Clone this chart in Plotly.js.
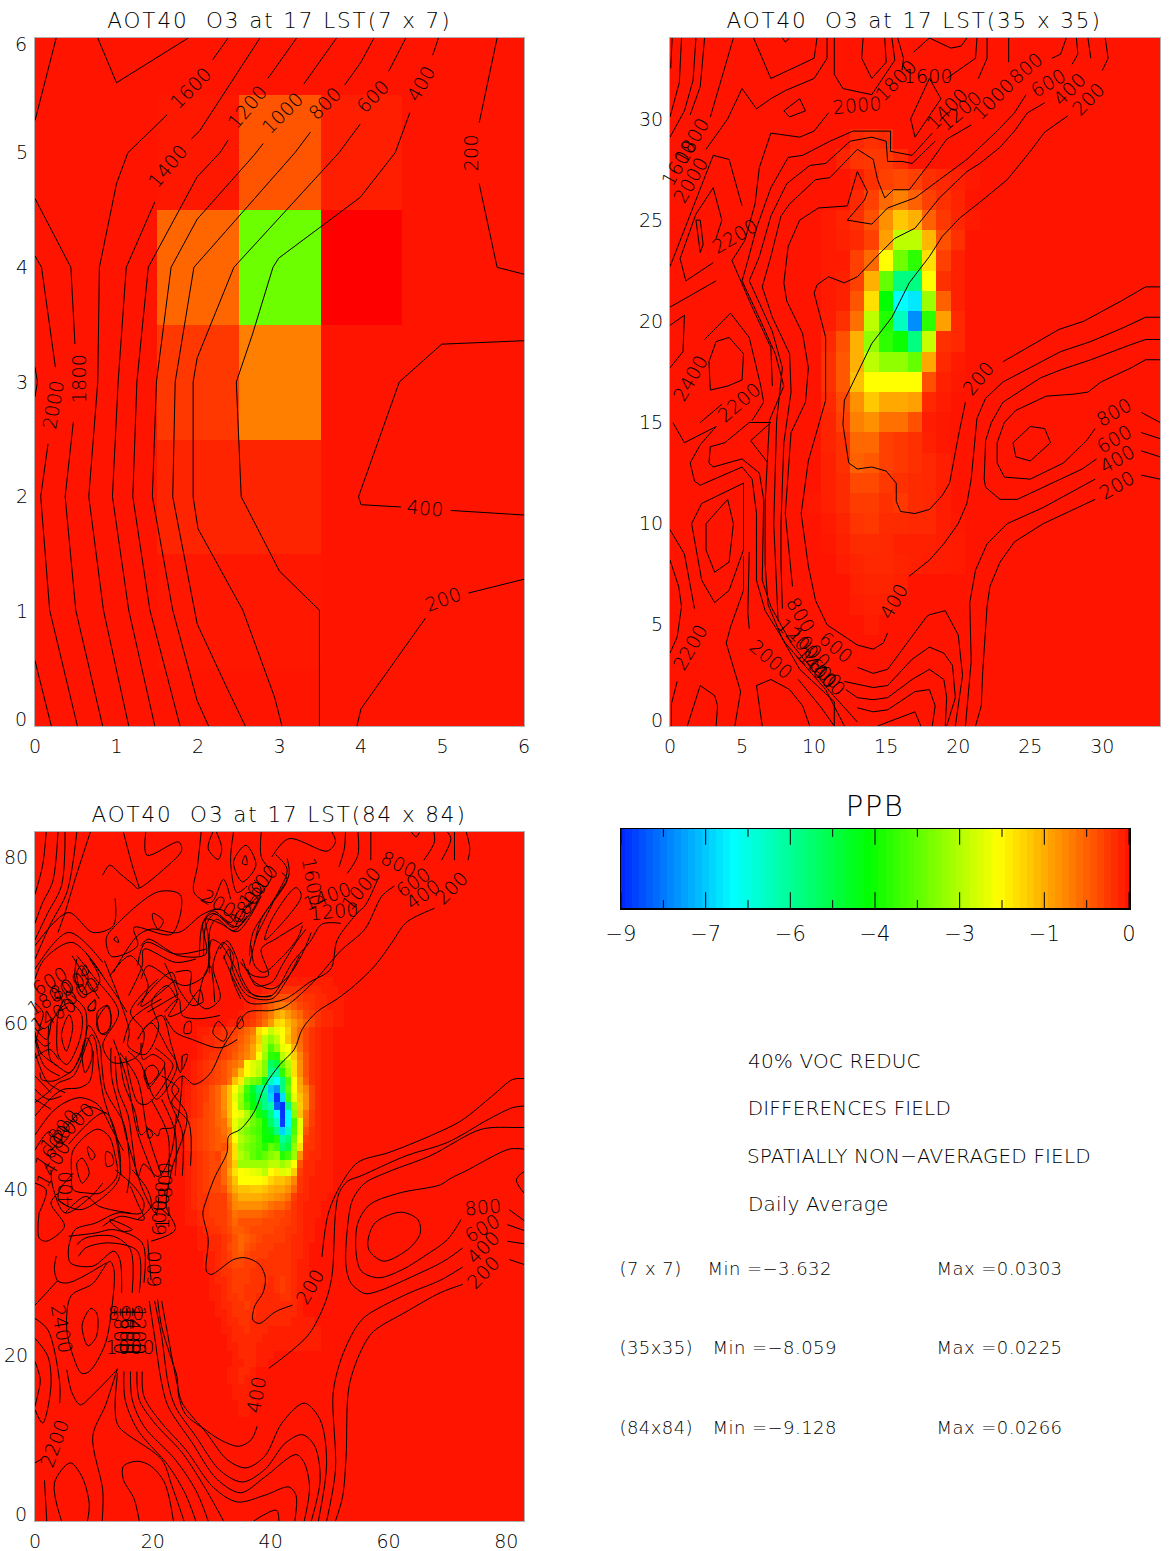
<!DOCTYPE html>
<html><head><meta charset="utf-8">
<script src="https://cdn.plot.ly/plotly-3.0.1.min.js"></script>
<style>html,body{margin:0;padding:0;background:#fff}#g{width:1173px;height:1551px}</style></head>
<body><div id="g"></div>
<script>
const FONT='DejaVu Sans';
const INK='#000';
const colorStops=[[-9,'rgb(0,40,255)'],[-7,'rgb(0,255,255)'],[-4.6,'rgb(0,255,0)'],[-2.3,'rgb(255,255,0)'],[0,'rgb(255,20,0)'],[0.03,'rgb(255,0,0)']];

// ---- 7 x 7 field ----
const heat7=[
[0,0,0,0,0,0,0],
[0,0,-.03,-.03,0,0,0],
[0,0,-.16,-.16,0,0,0],
[0,0,-.35,-1.06,0,0,0],
[0,0,-.8,-3.632,.03,0,0],
[0,0,-.04,-.64,-.1,0,0],
[0,0,0,0,0,0,0]];
const contour7=[
[[0,3.13],[.03,3],[0,2.87]],
[[0,.57],[.2,0]],
[[0,4.1],[.08,4],[.25,3.13]],[[.16,2.46],[.07,2],[.18,1.01],[.52,0]],
[[0,4.6],[.44,4],[.49,3.33]],[[.47,2.65],[.37,2],[.5,1.01],[.83,0]],
[[0,5.28],[.26,6]],
[[.77,6],[1,5.61],[1.88,6]],
[[2.37,6],[2.18,5.81]],[[1.62,5.33],[1.14,5],[1,4.73],[.79,4],[.77,3],[.66,2],[.84,1.01],[1.15,0]],
[[2.76,6],[2.02,5.19],[1.92,5.12]],[[1.47,4.57],[1.12,4],[1.02,3],[.95,2],[1.15,1.01],[1.47,0]],
[[3.21,6],[2.86,5.65]],[[2.37,5.11],[2.27,5],[1.99,4.79],[1.39,4],[1.25,3],[1.2,2],[1.41,1.01],[1.78,0]],
[[3.7,6],[3.3,5.6]],[[2.8,5.08],[2.69,4.98],[1.99,4.42],[1.67,4],[1.49,3],[1.44,2],[1.69,1.01],[1.99,.22],[2.13,0]],
[[4.16,6],[4,5.79],[3.8,5.59]],[[3.38,5.18],[3.19,5],[1.95,4],[1.72,3],[1.69,2],[1.99,.89],[2.35,.34],[2.58,0]],
[[4.55,6],[4.34,5.71]],[[3.99,5.25],[3.73,5],[2.44,4],[1.99,3.21],[1.94,3],[1.94,2],[2,1.72],[2.55,1.01],[2.94,.25],[3.03,0]],
[[4.95,6],[4.88,5.85]],[[4.6,5.35],[4.42,5],[3.99,4.61],[2.99,4.08],[2.92,4],[2.67,3.42],[2.47,3],[2.53,2],[3,1.35],[3.49,1.01],[3.49,0]],
[[5.67,6],[5.45,5.26]],[[5.45,4.73],[5.67,4],[6,3.94]],
[[6,3.36],[4.99,3.33],[4.47,3],[3.97,2],[4,1.93],[4.49,1.91]],[[5.1,1.88],[6,1.84]],
[[6,1.28],[5.32,1.16]],[[4.79,.94],[4,.15],[3.95,0]]
];
const labels7=[['1600',1.91,5.56,-45],['1400',1.63,4.88,-50],['1200',2.6,5.4,-50],['1000',3.03,5.35,-45],['800',3.56,5.43,-45],['600',4.15,5.49,-45],['400',4.73,5.6,-60],['200',5.34,5,-90],['1800',.53,3.03,-90],['2000',.22,2.8,-80],['400',4.79,1.9,5],['200',5.01,1.11,-20]];

// ---- 35 x 35 field: rows listed from row 29 down to row 5, columns 10..21 ----
const heat35FirstCol=10, heat35TopRow=29;
const heat35Rows=[
[0,0,0,-.2,-.27,-.23,0,0,0,0,0,0],
[0,0,-.16,-.31,-.35,-.35,-.23,0,0,0,0,0],
[0,0,0,-.1,-.27,-.43,-.51,-.43,-.27,-.2,-.12,-.05],
[0,0,0,-.2,-.43,-.84,-1.06,-.74,-.43,-.27,-.15,0],
[0,-.06,-.15,-.27,-.59,-1.21,-1.76,-1.53,-.74,-.35,-.17,-.06],
[0,-.06,-.12,-.2,-.43,-1.37,-2.9,-2.9,-1.6,-.59,-.27,0],
[0,-.06,-.06,-.43,-.84,-2.3,-3.6,-4.2,-2,-.43,-.12,0],
[0,-.06,-.12,-.43,-1.53,-3.7,-5.8,-5.8,-2.3,-.27,-.12,0],
[0,-.06,-.12,-.64,-2,-4.6,-7,-7.2,-3.2,-.74,-.12,0],
[0,-.08,-.27,-.9,-2.9,-4.3,-6.4,-8.06,-4.2,-1.37,-.2,0],
[0,-.2,-.59,-1.53,-3.3,-4.2,-4.5,-5.8,-2.8,-.27,-.2,0],
[0,-.27,-.67,-1.53,-2.9,-3.3,-3.3,-3.7,-1.45,-.2,-.06,0],
[0,-.27,-.67,-1.68,-2.3,-2.3,-2.3,-2.3,-.59,-.12,-.04,0],
[0,-.2,-.51,-1.21,-1.76,-1.45,-1.45,-1.37,-.2,-.08,0,0],
[0,-.16,-.43,-1.06,-1.21,-.9,-.9,-.59,-.08,-.04,0,0],
[0,-.16,-.27,-.82,-.82,-.43,-.35,-.27,-.12,-.04,0,0],
[0,-.12,-.27,-.74,-.67,-.43,-.35,-.27,-.2,-.1,0,0],
[0,-.12,-.23,-.51,-.51,-.35,-.27,-.23,-.2,-.1,0,0],
[-.04,-.12,-.23,-.39,-.39,-.27,-.35,-.23,-.2,-.08,0,0],
[0,-.06,-.16,-.31,-.35,-.23,-.23,-.2,-.2,-.08,-.04,0],
[0,-.04,-.12,-.23,-.23,-.2,-.12,-.12,-.12,-.08,-.06,0],
[0,0,-.08,-.16,-.2,-.2,-.16,-.12,-.08,-.08,-.06,0],
[0,0,0,-.12,-.16,-.16,-.12,0,0,0,0,0],
[0,0,0,-.08,-.12,-.12,0,0,0,0,0,0],
[0,0,0,0,-.08,0,0,0,0,0,0,0]];
const contour35=[
[[.15,34],[.05,32.5]],
[[.8,34],[.65,31.8],[0,30.1]],
[[1.8,34],[1.6,31.9],[1,30.4],[0,29.1]],
[[2.4,34],[2.1,31.6],[1.4,30.2]],
[[4.4,34],[3.6,32],[2.8,30.1]],
[[5.8,34],[7,32],[10,33],[10.2,34]],
[[7.8,34],[8,33.8],[8.3,34]],
[[10.9,34],[10.9,33],[10,32],[8,31.4],[7,31],[6,30.5],[5,31.5],[4,30],[2.5,28.5]],
[[7.9,30.4],[9,31],[9.4,30.4],[8.3,30.1],[7.9,30.4]],
[[13.4,34],[13.3,33],[14,32],[15,32.8],[14.9,34]],
[[11.4,34],[11.4,32.2],[12,31.5],[14,31.2],[15.6,32.9],[15.4,34]],
[[15.8,34],[16.2,33],[16.1,32.4]],
[[16.9,33.3],[18,34],[19.5,33.5],[20.2,33.6],[20.6,34]],
[[21.3,34],[21.2,33],[19.2,32]],
[[22,34],[22,33],[21.4,32]],
[[23.5,34],[23.5,32.8]],
[[26.5,33],[27.1,33.2],[27.5,34]],
[[27.9,32.7],[28.3,33.2],[28.2,34]],
[[29,34],[29.2,33]],
[[30.2,34],[30.4,33],[30,32.4]],
[[18,32],[18.8,31],[17,29.1],[16.7,30],[18,32]],
[[27.6,30.15],[26,29.35],[25,28.4],[23.4,27],[21.7,26],[20.1,25.1],[18.9,24.2],[18,23.2],[16.6,21.9],[15.4,20.2],[14,18.9],[13,17.4],[12.1,16.1],[12,14.9],[12.4,13],[13,12.7],[14,12.8],[15,12.6],[15.7,12],[15.7,11.1],[16,10.6],[17,10.5],[18,10.7],[18.9,11.4],[19.4,12],[20,14.3],[20.5,16]],
[[23.1,18],[25.6,19],[27,19.6],[28.7,20],[31.3,21],[33,21.7],[34,21.7]],
[[34,20.2],[33,20.2],[31.5,19.7],[29.2,19],[27.1,18.5],[25,17.7],[23.1,17],[21.9,16.2],[21.3,15.2],[20.9,12.2],[20.6,11],[20,10],[19,9],[18,8.2],[16.6,7.4]],
[[15.1,4.6],[14.8,4.1],[14.1,3.8],[13,4],[10.9,5],[10.1,6.2],[9.6,7.9],[9.1,10.5],[9.6,13.1],[10.8,16.1],[10.8,19.2],[10,21.4],[10.2,21.8],[11,22.2],[12.1,21.9],[13,22.2],[14.2,23.1],[15.6,24.1],[17,24.6],[18.7,26.1],[20.6,27.4],[21.5,27.8],[22.9,28.6],[23.9,29.4],[24.8,30.3],[26,30.8]],
[[34,19.1],[33,19.1],[31.8,18.8],[29.2,18.1],[27.1,17.6],[25.7,17.2],[23.1,16],[22.3,15],[21.9,14.1],[21.8,12.2],[21.9,11.8],[22.9,11.2],[24.1,11.2],[26.2,11.9],[28.6,12.7],[29.6,13.2]],
[[34,18.1],[33,18.1],[32,17.7],[29.9,17],[29,16.5],[28,16.4],[26.1,16.3],[24,15.6],[23.2,15],[22.7,14],[22.7,13],[23.2,12.3],[25,12.2],[27.3,13],[28.9,14.1],[29.5,14.7]],
[[23.8,14],[25,14.8],[26,14.7],[26.4,14],[25,13.1],[24,13.3],[23.8,14]],
[[29.5,12.2],[28,11.6],[25.9,10.8],[23.4,10],[22,9],[21.2,7.7],[20.8,6.1],[20.9,3.2],[20.5,0]],
[[29.5,11.2],[28.6,10.9],[25.9,10],[23.9,9.1],[22.9,8.1],[22.2,6.9],[22,5.9],[21.7,2.7],[21.6,1],[21.2,0]],
[[32.7,15.5],[34,15]],[[32.7,14.5],[34,14.2]],[[32.7,13.6],[34,13.3]],[[32.7,12.4],[34,12.2]],
[[24.7,31.2],[23.9,30.3],[22.7,29.4],[20.6,28],[18.7,27],[17,26.1],[15.1,25.6],[14,24.8],[12.3,25],[13.5,26],[13.7,26.4],[13,27.4],[12.3,25.7],[10.3,25.6],[9,25],[8.2,23.7],[7.9,21.9],[8.1,21],[9.2,19.4],[9.6,17.7],[9.4,16],[8.4,14.5],[8,10.5],[8.5,6.9]],
[[20.9,29.7],[19.2,29],[18,27.8],[16.6,26.5],[15.5,26.5],[14.9,26.1],[14.4,27],[14.1,28],[13,28.5],[11.1,27.1],[10.1,27],[8.3,25.8],[7.7,25.2],[7,23.2],[6.4,21.7],[7.1,20.2],[8.3,18.4],[8.4,16.5],[7.9,14],[7.7,10],[7.7,8],[7.8,5.8]],
[[18.4,28.9],[16.8,27.8],[16.1,27.9],[15.1,27.9],[15,28.9],[14,29.1],[12.5,28.9],[10.8,27.8],[9.7,27.7],[8.1,26.8],[7,25.2],[6.2,23.2],[5.5,22],[7.1,19.5],[7.8,17.7],[7.4,15.1],[7.2,10],[7.4,7],[7.5,5.2]],
[[18.2,29.3],[16.8,28.2],[15.3,28.4],[15.3,29.4],[12.7,29.4],[11.1,28.9],[9.2,28.2],[8.2,28.1],[7,26.6],[6,24.6],[5.4,23],[5,22],[6.3,20],[7.3,18.4],[7.9,16.8],[6.9,15.1],[6.6,11],[6.6,8],[6.8,6],[7.8,4.3],[9,2.8],[11.4,1.2],[11.4,0]],
[[11,30.3],[10,29.4],[9,29.1],[7,29.3],[6.2,27.6],[5.9,25.8],[5.2,24],[4.3,23],[5.7,20.7],[7,18.7],[7.1,16.8]],
[[3,22.9],[1.1,22],[.7,23.1],[1.8,25.3],[3,26.6],[3.6,25],[3.2,24.1]],
[[1.8,25],[2.1,23.4],[2.3,23.8],[2.1,25],[1.8,25]],
[[5,25.7],[4.1,28],[3,28.2],[1.7,25.8],[0,22.7]],
[[3.2,22],[0,20.7]],
[[4.1,19.2],[5.1,18.4],[5,17.1],[4,16.8],[2.8,16.6],[2.7,18],[3.2,19],[4.1,19.2]],
[[2.4,19.1],[4.2,20.4],[5.5,19.2],[6.3,16.8],[6.5,16],[5.7,15.1]],
[[0,19.8],[1,20.3],[.9,18.5],[0,17.7]],
[[.2,15],[1,14],[3.2,14.8]],
[[2.1,15],[3.6,15.9]],
[[3.2,14.8],[2.1,13.9],[1.4,13],[1.7,12.1],[2.1,11.9],[5,12.8],[5.7,12.2],[6,10.5],[6,7.2],[6.6,5.7],[8,4.1],[10.8,1.8],[12.1,0]],
[[3.8,14],[2.8,13.8],[2.7,13],[3,12.8],[5,13.2],[6.2,12.5],[6.5,11.2],[6.4,7.2],[7,5.9],[8.4,4.1],[11.1,1.7],[13,.2]],
[[3.8,14],[5.5,15],[7,15],[5.6,14.1],[6.8,13]],
[[5.1,12],[2.2,11],[1.5,10],[2.2,7.2],[3.1,6.1],[4.1,6.7],[5.1,8.7],[5.1,12]],
[[4,11.2],[2.5,10],[2.5,8.7],[3.1,7.6],[4.1,8.1],[4.4,10],[4,11.2]],
[[0,9.7],[1,8.5],[1.7,5.8]],
[[0,8.2],[.6,6.9],[.8,5.9],[.5,4.4],[0,3.6]],
[[5.1,8.4],[5.1,6.7],[4.2,4.9],[3.9,4.1],[4.9,1.7],[4.5,0]],
[[5.5,8.6],[5.4,5.6],[5.5,4.8]],
[[.5,2.2],[.1,1.1],[.1,0]],
[[1.2,0],[2.1,2],[3.1,1.5],[3.3,1],[3.2,0]],
[[6.4,0],[6,2],[7,2.3],[8.3,1.8],[9.2,1],[9.7,0]],
[[8.9,2.3],[10.5,.9],[11.4,0]],
[[13,2.9],[14.1,2.6],[15.1,2.8],[17.8,5.4],[18,5.5],[19.1,5.7],[20,4.5],[20.3,2.5],[19.8,0]],
[[12.1,2.2],[13.5,2],[14.1,1.9],[15.1,2],[16.8,3.3],[18,3.9],[19,3.6],[19.6,3],[19.8,1.4],[19.2,0]],
[[12.2,1.8],[13,1.4],[14.1,1.3],[15.1,1.4],[16.8,2.3],[18,2.8],[19,2.3],[19.2,1.4],[19.1,0]],
[[13,.9],[14.1,.7],[15.1,.8],[17,1.7],[18,1.8],[18.4,1],[18.2,0]],
[[14.4,0],[17,.7],[17.4,0]]
];
const labels35=[['2000',13,30.7,-5],['1800',15.7,31.9,-45],['1600',17.9,32.1,0],['1400',19.2,30.5,-45],['1200',20.1,30.4,-40],['1000',22.4,31,-45],['800',24.7,32.5,-40],['600',26.2,31.8,-30],['400',27.7,31.5,-45],['200',29,31,-45],
['1800',1.5,28.9,-60],['1600',.6,27.8,-60],['2000',1.4,27,-60],['2200',4.5,24.2,-30],['2400',1.4,17.2,-60],['2200',4.8,16,-40],['2200',1.4,3.9,-60],['2000',7,3.3,40],
['800',9.1,5.5,60],['1200',8.9,4.3,45],['1000',9.7,3.9,45],['1400',10.1,2.9,45],['1600',10.4,2.8,40],['400',11,2.3,45],['600',11.5,3.9,40],
['400',15.5,6.2,-60],['200',21.4,17.2,-50],['800',30.8,15.5,-30],['600',30.8,14.2,-30],['400',31,13.2,-30],['200',31,11.9,-30]];

// ---- 84 x 84 field: rows from row 59 down to row 19, columns 28..50 ----
const heat84FirstCol=28, heat84TopRow=59;
const heat84Rows=[
[-.1,-.1,-.2,-.2,-.3,-.3,-.4,-.6,-.8,-1,-2,-2.3,-2.8,-2.5,-2.3,-1.8,-1.2,-.8,-.5,-.3,-.2,-.1,-.1],
[-.1,-.2,-.2,-.3,-.3,-.4,-.5,-.7,-.9,-1.2,-1.8,-2.9,-3.3,-2.9,-2.3,-1.7,-1.2,-.8,-.5,-.3,-.2,-.1,-.1],
[-.1,-.2,-.2,-.3,-.4,-.5,-.6,-.8,-1,-1.4,-2,-3,-3.9,-3.3,-2.5,-2.3,-1.5,-.9,-.5,-.3,-.2,-.1,-.1],
[-.1,-.2,-.3,-.3,-.4,-.5,-.7,-.9,-1.1,-1.4,-2.3,-3.2,-4.2,-4.3,-2.9,-2.5,-1.8,-1.1,-.6,-.3,-.2,-.1,-.1],
[-.2,-.3,-.4,-.5,-.6,-.8,-.9,-1.1,-2.3,-2.6,-2.8,-3.4,-5.5,-5.2,-3.7,-3,-2,-1.2,-.6,-.3,-.2,-.1,-.1],
[-.2,-.3,-.4,-.5,-.6,-.8,-1.1,-1.7,-2.3,-2.6,-2.9,-3.4,-5.9,-6.1,-4.2,-3.2,-2,-1.2,-.6,-.3,-.2,-.1,-.1],
[-.2,-.3,-.4,-.5,-.6,-.9,-1.7,-2.1,-3.2,-3.5,-3.7,-4.9,-6.4,-7,-5.8,-3.9,-2.3,-1.4,-.7,-.3,-.2,-.1,-.1],
[-.3,-.4,-.6,-.8,-1.2,-1.7,-2.3,-2.9,-4,-5,-5.9,-6.1,-7.6,-8,-5.8,-3.7,-2.3,-1.5,-1.1,-.5,-.2,-.1,-.1],
[-.3,-.4,-.6,-.8,-1.2,-1.7,-2.5,-3.2,-4.2,-4.8,-5.5,-5.8,-7.4,-8.9,-7.3,-4,-2.5,-1.7,-1.2,-.5,-.2,-.1,-.1],
[-.3,-.5,-.6,-.8,-1.2,-1.7,-2.3,-3.3,-3.9,-4.5,-5,-5.9,-6.2,-8.5,-8.9,-5.8,-3.2,-1.8,-1.2,-.5,-.2,-.1,-.1],
[-.3,-.5,-.6,-.8,-1.1,-1.7,-2.3,-2.5,-3,-3.8,-4.4,-5,-5.8,-7,-8.9,-7,-3.4,-1.7,-.9,-.4,-.2,-.1,-.1],
[-.4,-.5,-.6,-.8,-.9,-1.5,-2.5,-2.9,-3.2,-3.6,-3.9,-4.5,-5.5,-6.4,-8.8,-7,-4,-2.5,-.8,-.4,-.2,-.1,-.1],
[-.4,-.5,-.6,-.7,-.9,-1.2,-2.5,-3.2,-3.5,-3.8,-4,-4.5,-4.9,-5.8,-7.4,-6.4,-3.9,-2.5,-.6,-.3,-.2,-.1,-.1],
[-.4,-.5,-.6,-.7,-.8,-1.4,-2.3,-3,-3.3,-3.6,-3.9,-4.5,-4.6,-4.3,-6.1,-5.6,-3.6,-2.3,-.4,-.3,-.2,-.1,-.1],
[-.4,-.5,-.6,-.7,-.6,-1.2,-2,-3.2,-3.5,-3.7,-3.9,-4.3,-3.7,-4,-5.6,-5.2,-3.3,-2,-.3,-.3,-.2,-.1,-.1],
[-.3,-.4,-.5,-.4,-.8,-1.2,-2,-3,-3.3,-3.7,-4,-3.7,-3.4,-3.2,-4.3,-4,-3.2,-1.2,-.3,-.2,-.2,-.1,-.1],
[-.3,-.4,-.5,-.5,-.8,-1.2,-1.8,-3.2,-3.2,-3.2,-3.2,-3.2,-2.9,-2.9,-3.2,-2.9,-2.3,-.6,-.2,-.2,-.1,-.1,-.1],
[-.3,-.4,-.5,-.5,-.8,-1.4,-2,-2.3,-2.4,-2.5,-2.6,-2.9,-2.3,-2.1,-2.6,-2.5,-1.8,-.4,-.2,-.2,-.1,-.1,-.1],
[-.3,-.4,-.5,-.5,-.8,-1.2,-1.7,-2.3,-2.3,-2.3,-2.3,-2.2,-1.9,-1.7,-1.7,-1.5,-1.1,-.3,-.2,-.1,-.1,-.1,-.1],
[-.3,-.4,-.5,-.5,-.6,-1.1,-1.5,-1.7,-1.7,-1.8,-1.8,-1.7,-1.5,-1.4,-1.4,-1.2,-.8,-.3,-.2,-.1,-.1,-.1,-.1],
[-.3,-.3,-.4,-.4,-.4,-.8,-1.2,-1.5,-1.5,-1.5,-1.5,-1.4,-1.3,-1.2,-1.1,-.9,-.4,-.2,-.2,-.1,-.1,-.1,0],
[-.3,-.3,-.4,-.4,-.4,-.7,-1.1,-1.2,-1.2,-1.2,-1.2,-1.1,-.9,-.8,-.8,-.6,-.3,-.2,-.1,-.1,-.1,0,0],
[-.2,-.3,-.4,-.4,-.4,-.6,-.9,-.8,-.8,-.8,-.8,-.7,-.6,-.5,-.5,-.4,-.3,-.2,-.1,-.1,-.1,0,0],
[-.2,-.3,-.3,-.4,-.4,-.6,-.8,-.6,-.6,-.6,-.6,-.5,-.5,-.5,-.4,-.4,-.3,-.2,-.1,-.1,0,0,0],
[-.1,-.2,-.3,-.3,-.4,-.5,-.7,-.7,-.6,-.5,-.5,-.5,-.5,-.4,-.4,-.3,-.3,-.2,-.1,-.1,0,0,0],
[-.1,-.1,-.2,-.2,-.3,-.4,-.6,-.8,-.7,-.6,-.5,-.4,-.4,-.4,-.4,-.3,-.2,-.2,-.1,-.1,0,0,0],
[-.1,-.1,-.2,-.2,-.3,-.5,-.6,-.8,-.6,-.5,-.4,-.4,-.4,-.3,-.3,-.3,-.2,-.2,-.1,0,0,0,0],
[0,-.1,-.1,-.2,-.3,-.4,-.6,-.7,-.5,-.4,-.4,-.4,-.3,-.3,-.3,-.3,-.2,-.2,-.1,0,0,0,0],
[0,-.1,-.1,-.2,-.3,-.4,-.5,-.5,-.4,-.4,-.3,-.3,-.3,-.3,-.3,-.3,-.2,-.1,-.1,0,0,0,0],
[0,0,-.1,-.2,-.3,-.3,-.4,-.4,-.4,-.3,-.3,-.3,-.3,-.3,-.3,-.3,-.2,-.1,-.1,0,0,0,0],
[0,0,-.1,-.2,-.2,-.3,-.4,-.4,-.4,-.3,-.3,-.3,-.2,-.3,-.4,-.3,-.2,-.1,-.1,0,0,0,0],
[0,0,-.1,-.1,-.2,-.3,-.4,-.4,-.3,-.3,-.3,-.2,-.2,-.3,-.4,-.3,-.2,-.1,0,0,0,0,0],
[0,0,-.1,-.1,-.2,-.3,-.3,-.4,-.3,-.3,-.2,-.2,-.2,-.2,-.3,-.3,-.2,-.1,0,0,0,0,0],
[0,0,0,-.1,-.2,-.2,-.3,-.3,-.4,-.3,-.2,-.2,-.2,-.2,-.2,-.2,-.2,-.1,0,0,0,0,0],
[0,0,0,-.1,-.1,-.2,-.3,-.3,-.3,-.3,-.2,-.2,-.2,-.2,-.2,-.2,-.2,-.1,0,0,0,0,0],
[0,0,0,0,-.1,-.2,-.2,-.3,-.3,-.2,-.2,-.2,-.2,-.2,-.2,-.2,-.1,-.1,-.1,-.1,0,0,0],
[0,0,0,0,-.1,-.1,-.2,-.2,-.3,-.2,-.2,-.2,-.1,-.1,-.1,-.1,-.1,-.1,-.1,-.1,-.1,0,0],
[0,0,0,0,0,-.1,-.2,-.2,-.2,-.2,-.2,-.1,-.1,-.1,-.1,-.1,-.1,-.1,-.1,-.1,-.1,0,0],
[0,0,0,0,0,-.1,-.1,-.2,-.2,-.2,-.1,-.1,-.1,-.1,-.1,-.1,-.1,-.1,-.1,-.1,-.1,0,0],
[0,0,0,0,0,0,-.1,-.2,-.2,-.2,-.1,-.1,-.1,0,0,0,0,0,0,0,0,0,0],
[0,0,0,0,0,0,-.1,-.1,-.2,-.2,-.1,-.1,0,0,0,0,0,0,0,0,0,0,0]];
// rows and edges outside the main block: [row, first column, values]
const heat84Cap=[
[65,42,[-.1,-.1,-.1,-.1,-.1,-.1,-.1,-.1,-.1]],
[64,39,[-.1,-.2,-.2,-.3,-.3,-.3,-.3,-.2,-.2,-.2,-.1,-.1,-.1]],
[63,37,[-.1,-.2,-.3,-.4,-.5,-.6,-.6,-.5,-.4,-.3,-.3,-.2,-.2,-.1,-.1,-.1]],
[62,36,[-.1,-.2,-.3,-.5,-.7,-.9,-1,-.9,-.7,-.5,-.4,-.3,-.2,-.2,-.1,-.1,-.1]],
[61,35,[-.1,-.2,-.3,-.5,-.7,-1,-1.4,-1.6,-1.3,-1,-.8,-.5,-.4,-.3,-.2,-.2,-.1,-.1]],
[60,33,[-.1,-.1,-.2,-.3,-.4,-.6,-.9,-1.3,-1.9,-2,-1.6,-1.3,-1,-.7,-.5,-.3,-.2,-.2,-.1,-.1]],
[55,27,[-.1]],[54,27,[-.1]],[53,27,[-.1]],
[52,26,[-.1,-.2]],[51,26,[-.1,-.2]],[50,26,[-.1,-.2]],[49,26,[-.1,-.2]],[48,26,[-.2,-.3]],[47,26,[-.2,-.3]],[46,26,[-.2,-.3]],[45,26,[-.2,-.3]],[44,26,[-.1,-.2]],[43,26,[-.1,-.2]],[42,26,[-.1,-.2]],[41,26,[-.1,-.2]],[40,26,[-.1,-.2]],[39,26,[-.1,-.2]],[38,26,[-.1,-.2]],[37,26,[-.1,-.1]],[36,26,[-.1,-.1]],
[18,33,[-.1,-.1,-.2,-.2,-.1]],[17,33,[-.1,-.1,-.2,-.1,-.1]],[16,34,[-.1,-.1,-.1,-.1]],[15,34,[-.1,-.1,-.1]],[14,35,[-.1,-.1,-.1]],[13,35,[-.1,-.1]]];
const contour84=[
[[67.8,73.8],[63,72.1],[60.6,69.7],[57.7,66.9],[54.2,64.5],[51.3,62.9],[47.8,61.3],[45.4,59.3],[44,56.8],[41.6,55],[39,52.4],[37.3,49.4],[34.9,47.2],[32.9,46.4],[32.6,44.4],[30.5,41.4],[29.1,38.7],[28.5,37.1],[29.4,33.9],[29.1,30.1],[29.9,29.7],[33.7,31.5],[35.8,31.7],[38.1,30.9],[39.1,29.3],[38.7,27.5],[37.3,25.9],[37,24.2],[38.1,23.8],[40.8,25.2],[43.7,26]],
[[48.7,31.8],[49.8,37.1],[51.9,40.5],[54.8,43.2],[60.1,44.4],[67.1,46.4],[72.3,48.2],[77.6,51.2],[81.1,53.2],[83,53.3]],
[[83,50],[81.1,49.8],[77,48.4],[70,45.6],[63,44],[55.4,41.6],[53,40.9],[51.6,39.5],[51,37.1],[50.4,29.5],[49.2,26.2],[46.6,22.6],[43.7,20.6],[39.7,18.4]],
[[37.7,11.4],[36.7,9.8],[34.6,9],[31.4,9.8],[28.5,11.2],[25.6,12.8],[24.4,15],[24.1,17.4],[23.2,19.4],[21.5,23.4],[20.8,26.7]],
[[56.5,33.7],[57.7,35.9],[62.1,37.2],[65,36.3],[65.4,34.7],[63.6,32.9],[59.2,31.3],[56.8,32.5],[56.5,33.7]],
[[72.3,36.3],[70,33.9],[66.5,32.1],[62.4,30.3],[58.3,29.3],[55.4,30.1],[54.5,32.3],[54.8,35.9],[56.8,38.1],[61.8,39.5],[68.8,40.5],[70.6,41.3],[73.5,42.3],[75.8,43.2],[80.5,44.8],[83,44.8]],
[[72.6,32.9],[69.4,31.3],[64.2,29.5],[58.3,27.7],[56,27.4],[53.6,28.7],[52.8,30.7],[53,35.1],[53.9,38.7],[56,40.7],[60.1,42.1],[67.1,44],[75.8,47.2],[81.7,47.4],[83,47.4]],
[[72.6,30.6],[68.8,29],[63,27.3],[56,24.6],[54.2,23],[51.9,19.4],[50.6,15.4],[51,6.2],[49.5,0]],
[[72.6,28.5],[68.8,27.5],[63,25.2],[57.4,22.8],[55.4,20.6],[53.3,16.2],[52.8,7.7],[52.2,2.9],[51,0]],
[[80.5,37.5],[83,36.2]],[[80.2,35.7],[83,35]],[[80.2,33.7],[83,33.4]],[[80.5,31.5],[83,30.9]],
[[83,42.1],[81.7,41.1],[83,39.5]],
[[21.5,26.5],[22.6,22.2],[24.1,16.6],[25,14.2],[29.1,10.6],[32.6,7.4],[35.8,6.4],[39,7.8],[41.9,11.8],[45.7,14.2],[48.4,12.2],[49.5,7],[48.1,0]],
[[20.3,26.5],[21.5,22.2],[22.6,16.6],[23.8,13.8],[27.3,10.2],[31.4,6.1],[35.2,4.7],[39,6.2],[42.5,9.4],[45.4,10.4],[47.5,9],[48.4,5],[46.9,0]],
[[19.4,26.5],[20.3,22.2],[21.5,16.6],[22.6,13.8],[26.7,9.4],[30.8,5.1],[34.9,3.4],[39,5.3],[44.3,8],[45.7,7],[46.6,4.1],[45.7,0]],
[[18.2,18],[18.5,15],[21.5,11.8],[25.6,8.6],[30.2,4.1],[34.3,2.3],[39,3.1],[43.1,4.1],[44.3,3.1],[44.1,0]],
[[17.3,18],[17.7,14.6],[20.3,11.8],[25,8.2],[29.1,3.7],[32,0]],
[[37.1,0],[41,1.3],[41.4,0]],
[[16.2,18],[16.5,14.6],[18.5,11.4],[23.8,7.4],[27.3,3.7],[29.4,0]],
[[15.1,18],[15.3,14.6],[17.4,11],[22.6,6.7],[25.5,3.3],[27.3,0]],
[[14,17.8],[13.6,13.4],[14.2,11.4],[21.5,7.4],[23.2,4.3],[25.3,0]],
[[17.7,0],[16.8,2.7],[15,5],[15,6.6],[17.4,7.2],[19.7,6.6],[22,4.6],[23.5,0]],
[[14,18.4],[12,14],[9.8,10.2],[11.5,3.7],[11.4,0]],
[[4.5,0],[3.3,4.6],[6,7],[8,5.3],[9.2,2.1],[8.9,0]],
[[1.6,4.9],[2,0]],[[0,7],[1.2,7.5]],
[[0,24.4],[2.2,23],[4.2,16.6],[4.2,14.2]],
[[0,22],[2.2,19.8],[2.7,16.2],[1.3,11.8],[0,13.4]],
[[0,19.2],[.9,17],[.4,15],[0,13.8]],
[[8,23.6],[9,21.1],[10.4,22.2],[10.5,25],[9.5,25.6],[8,23.6]],
[[6.1,27.1],[9.8,28.6],[12.7,31.3],[13.4,30.3],[13,25.4],[11.8,21.1],[9.2,18],[7.9,17.8],[6.5,19.8],[5.4,23],[6.1,27.1]],
[[5.4,18.2],[6.3,15.4],[7.7,14],[9.8,15.2],[13.9,18.2]],
[[.7,37.1],[.7,34.1],[1.9,33.7],[5,35.5],[2.7,38.3],[3.9,39.5]],
[[5.1,37.1],[8.6,39.1],[10.9,37.9],[16.2,37.1]],
[[12.7,36.3],[16.5,35.1],[15,34.9],[13,35.9],[12.7,36.3]],
[[11.5,35.5],[14.4,36.7],[18.5,36.3],[17.4,38.3],[16.2,40.3]],
[[5.7,33],[6,31.1],[9.8,30.7],[13.4,32.5],[14.4,31.5],[14.7,27.5]],
[[3.6,31.9],[3.3,30.3],[3.9,28.9],[5.7,28.7],[12.1,31.1]],
[[7.1,33.3],[8.6,34.1],[13.3,34.3],[16.2,32.7],[16.5,27.5]],
[[7.4,31.9],[8.6,32.9],[12.7,33.5],[17.4,32.5],[17.7,27.5]],
[[5.7,34.3],[10.3,34.7],[13.3,35.1],[18.2,33.5],[18.5,28.7]],
[[19.1,33.9],[19.7,29]],
[[19.7,33.7],[23.8,35.1],[22.3,37.9],[23.2,42.3],[25.8,48.8],[23.2,52],[25,53.6],[27,52.6],[29.6,53.8],[32,57.2],[34.3,59.7],[36.1,61.3],[40.2,61.5],[42.5,62],[47.2,64.9],[51.9,68.7],[56,71.3],[58.9,75.3],[61,76.5]],
[[2.7,42.3],[3,40.3],[5.1,37.1],[9.2,38.9],[11.5,40.7]],
[[0,40.7],[1.9,39.9],[.7,37.1]],
[[13.6,42.3],[16.8,40.3],[18.5,38.3],[18,37.1],[13.9,37.1],[10.3,35.9],[6.8,35.1],[5.7,33]],
[[16.5,42.3],[19.1,39.9],[19.7,37.9],[17.4,36.3]],
[[0,26],[3.9,29]],
[[5.8,61],[6.4,59.6],[5.3,56.6],[4.5,58.6],[5.8,61]],
[[5.9,62.4],[7.9,61],[7.6,58],[5.4,55],[4,56],[3.7,58.8],[4.2,61.6],[5.9,62.4]],
[[6.2,63.3],[8.5,61.6],[8.5,58],[5.9,54],[4.2,54.6],[2.6,55.6],[2.3,59.6]],
[[0,62.4],[1.4,61.2],[.85,59.6],[0,57.6]],
[[0,59.4],[2,58],[2.8,60.6]],
[[0,58.4],[1.7,57.2],[2.6,57.6]],
[[0,55.8],[2.5,56.8],[4,55.6]],
[[.85,54],[1.1,53.2],[3.1,53],[5.4,53.8],[6.5,54.4],[8.2,56.8],[9.1,59.7],[11,57.4],[11.3,55.2],[11.9,52],[12.7,50.8],[15,48],[15.8,45.2],[16.1,42],[15.6,39.5]],
[[0,50.4],[2.5,51.8],[4,52.8],[6.5,53.6],[9.6,58.6],[10.2,58],[10.8,54.8],[11.6,51.2],[13.8,46],[14.6,41.7]],
[[0,48.8],[3.1,51.2],[4.8,52],[7.6,52.2],[9.3,53],[9.9,56.6]],
[[8.8,58.2],[8,56.8],[8.5,54],[9.6,55.6],[9.6,57.2],[8.8,58.2]],
[[9,45.1],[10.2,44],[9.6,43.5],[8.9,44.7],[9,45.1]],
[[12.1,44.5],[13,44.2],[13.3,43],[12.2,42.7],[12.1,44.5]],
[[7.1,43.1],[8,43.7],[9.2,41.9],[8,40.7],[7.1,43.1]],
[[6.5,44.7],[10.5,47.2],[12.5,46.4],[13.6,44],[13.9,41.5],[11,39.5],[9,39.5],[6.5,39.9],[6.2,41.9],[6.5,44.7]],
[[5.7,45.4],[11.9,49.2],[14.2,45.2],[14.2,41.1],[11,38.7],[7.6,37.5],[4,38.7],[4.2,39.9],[6.5,41.9]],
[[0,46.5],[2.7,49.1],[4.8,50.3],[7.6,51],[10.6,50.2],[13.2,47],[15,44.6]],
[[0,44.7],[2.4,46.9],[3.9,45.5],[5.4,47.5],[9,49.9],[12,49.1]],
[[9,61.8],[10.2,62.8],[10.2,61.8],[9.2,61.4],[9,61.8]],
[[10.5,60.2],[12.2,62],[13,60.4],[11.9,58.6],[10.8,59],[10.5,60.2]],
[[8.5,67],[9.1,66],[8,65.7],[8.5,67]],
[[7.1,67.7],[6.8,65.3],[8.5,63.4],[11,65],[9.3,67.7]],
[[19,54.6],[20.1,54.9],[21,54],[19.2,52.6],[18.5,53.6],[19,54.6]],
[[15.8,56.6],[18,55],[19,52.6],[19.2,52.1],[21.8,54.6],[22,55.2],[20,56.2],[18.3,55.6],[18,57.6]],
[[15.4,56],[16,53.6],[17.5,50.4],[18.9,50.2],[20.4,51.1],[23,54],[23.4,55],[20.4,57]],
[[14.4,55.9],[15.1,52.7],[16.9,49.5],[18,46.5],[19.3,47.2],[20.9,46.4],[21.3,47.2],[23.6,47.5],[25,53.6]],
[[13.6,56],[14.1,52],[15.8,48.9],[16.6,45],[17.5,41.5],[18.4,43],[20.9,41.5],[23,44],[24,49]],
[[12.9,57],[13,53.5],[14.6,49],[15.4,46.5],[16.9,42.9],[18.4,39.7],[20.6,37],[21,39]],
[[19,47.4],[20,46.5],[19.3,46.1],[19,47.4]],
[[25,56],[25.9,56.2],[25,54.4],[25,56]],
[[25.6,60],[26.4,60.2],[26.4,58.8],[25.3,58.8],[25.6,60]],
[[31.1,60.2],[32.6,58.8],[32,57.8],[30.2,58.8],[31.1,60.2]],
[[34.9,60.8],[35.4,59.7],[34.6,59.3],[34.3,60.1],[34.9,60.8]],
[[22,60.9],[23.8,58.9],[26.7,58],[31.4,57],[34.3,58]],
[[10.6,61.3],[12.4,62.1],[12.7,59.3],[11.2,58.7],[10.6,61.3]],
[[8.9,61.7],[10.1,62.7],[10.1,61.5],[8.9,61.7]],
[[7.9,66.9],[9,65.5],[7.9,63.7],[7.1,66.1],[7.9,66.9]],
[[7.1,68.1],[9.8,65.7],[14.2,61.3],[11.5,57.3],[13.3,55.2],[17.4,56],[18.5,58.9],[16.2,61.3],[20.9,65.3]],
[[11.8,67.5],[14.5,62.5],[16,59],[15.8,57.2],[18.7,56.2],[21,59.5],[19.8,62.5],[22.4,64.5],[24,63]],
[[1.9,83],[1.3,79],[0,75.5]],
[[3.9,83],[3,77],[1.3,74.5],[0,72]],
[[5.1,83],[4.5,76.5],[2.2,73.3],[0,70]],
[[7.1,83],[5.4,75.7],[2.7,72],[0,67.7]],
[[9.4,83],[6.8,77.3],[5.1,73.3],[3.9,70.9]],
[[11.5,77.8],[12.7,79],[14.4,78],[16.8,76.6],[17.4,76.2],[22,78.6],[24.9,80.8],[24.4,81.8],[19,80.2],[18.8,83]],
[[15,83],[16.5,79],[17.7,76.3]],
[[30.2,83],[29.4,81],[31.1,79.7],[31.7,81],[30.8,83]],
[[28.2,83],[27.6,79],[27,75.7],[29.9,74.5],[32,77.3],[33.2,74.9]],
[[35.8,81.4],[33.7,79.4],[35.2,77],[37.5,79],[35.8,81.4]],
[[35.7,80.2],[35.2,79.2],[36,79.1],[35.7,80.2]],
[[33.7,83],[33.2,79.4],[34.3,75.7],[36,76.5]],
[[38.4,83],[38.4,80],[40.2,77.7],[35,73.3]],
[[40.2,80],[43.1,82.2],[49.6,80.7],[51,81.8],[50.4,83]],
[[40.8,80.3],[42.8,78.5],[40.8,75.1],[39,72.5],[37.6,70.4],[36.4,67]],
[[44.3,76.3],[45.2,75.3],[40.5,70.9],[39,70],[40.2,72.5],[44.3,76.3]],
[[51.6,78.8],[52.5,81],[52.7,83]],
[[54.8,83],[54.8,80.2],[53,78]],
[[57,83],[57,79.6]],
[[63.9,83],[64.7,82.4],[65.3,83]],
[[66,79.6],[67.8,81.8],[67.7,83]],
[[69,79.6],[70.6,82.2],[70,83]],
[[71.2,83],[71.2,79.6]],
[[73.2,83],[73.8,81],[73.5,79.6]],
[[51.9,72],[48.7,71.9],[46.6,69.7],[43.7,67.3],[40.2,63.3],[37.5,63.3],[35.8,64],[33.7,67],[31.5,69.5],[30,70],[29.6,66]],
[[58.3,77.5],[56,74.1],[54.8,73.3],[51.3,70],[50.2,66.5],[46.6,64.9],[42.5,62.9],[38.4,62.3],[36.1,62.5],[33.7,65.3],[32,68.1]],
[[20,73.2],[21.8,72.3],[20.9,71.3],[20,72.5],[20,73.2]],
[[13.4,70],[14.2,69.7],[13.8,70.4],[13.4,70]],
[[12.1,70.2],[13,68],[17.4,69.3],[16.8,71.5],[23.2,70.7],[24.7,75.4],[20.9,75.8],[13.9,71.9],[12.1,70.2]],
[[18,69.3],[19.2,70.1],[24.4,68.1],[29,68.3],[28.5,72],[30.2,73.2],[34.3,71.6],[38.4,76],[37.2,77.2]],
[[18,65.3],[19.2,66.9],[23.8,64.9],[25.6,64.5],[29,65.9],[29.4,70.4],[29,72.5],[31.4,72],[34.3,71],[38.4,75.3]],
[[23.8,66.1],[26.4,66.2],[26.4,63.7],[29,61.7],[31.4,62.9],[30.2,66.9],[31.9,69.7],[33.7,68.1],[33.2,66.1],[34.9,62.9]],
[[34.9,67.3],[37,65.7],[39.6,65.7],[38.4,68.9],[40.8,70.1],[45.4,72.1]],
[[36.1,66.5],[37.5,64.5],[40.2,64.9],[41.9,66.9],[44.3,69.7],[46,71.3]],
[[12.7,65.7],[16.2,68.1],[19.2,64.5],[18,62],[23.8,65.2]],
[[22,67.2],[24.2,63],[22.7,60.8],[25.2,61.5],[28,64],[28.6,62.5]],
[[28.6,68.1],[29,71.7],[30.5,73.1],[33.7,71.5],[34.9,72.9],[37.2,75.3]],
[[29.7,67.7],[29.7,71.3],[30.8,72.5],[33.7,71.1],[36,72.9]],
[[27.9,68.1],[28.5,72.1],[30.2,73.5],[33.2,72.1],[34.3,73.3]],
[[31.4,68.9],[32.6,69.9],[34.3,67.7],[34.9,65.7],[37.2,63.3],[40.2,63.3]],
[[32,67.7],[32.9,68.9],[33.7,66.1],[36.1,63.3],[40.2,62.9],[42.5,64.9],[44.9,68.1]],
[[30.5,62.5],[29.7,66.9],[28.5,65.3],[27.6,62.1]],
[[36.7,69.3],[37.3,66.9],[38.8,66.1],[41.6,67.7],[44.5,70.1],[45.4,71.7]],
[[35.2,67.7],[37,65.1],[40.2,64.1],[43.1,65.7],[45.2,68.1],[46.9,70.9]],
[[37.3,69.7],[38.4,72.5],[42.8,77.3],[41.9,78.1]],
[[36.4,68.1],[37,70.9],[40.2,74.5],[43.1,77.8],[42.8,79.8]],
[[17.4,66.9],[18.8,69.7],[23.8,68.3],[29,68.9]],
[[13.3,66.1],[17.4,70.5],[19.7,71.3],[24.4,70.9],[28.5,73.1],[31.4,73.7],[34.3,71.9]],
[[15.9,63.3],[18.2,66.9],[18.5,68.9],[23.8,67.3],[27.3,67.7]],
[[17.4,62.1],[23.2,66.1],[24.4,64.1],[26.7,62.1],[28.5,62.5]],
[[22,61.3],[24.4,62.9],[25,60.9],[27.6,60.5],[31.4,60.9]],
[[19.1,61.3],[24.4,63.5]],
[[18.5,59.3],[21.5,60.9],[23.2,57.2],[24.7,54],[25,56]],
[[17.4,58],[19.7,60],[22.6,56.8],[24.1,54.8],[20.6,50.8],[18.5,54.4]],
[[15,57.6],[16.5,60.5],[21.5,62.9]],
[[8.6,68.5],[14.2,62.9],[15.6,61.3]],
[[0,69.3],[5.7,73.3],[9.8,70.9],[13.3,71.7],[13.6,75]],
[[0,65.3],[1.6,67.7],[6.3,69.7],[11.5,65.7]],
[[0,66.5],[5.7,70.9],[11.5,67.3]],
[[6.3,68.1],[10.9,62.9]],
[[21.5,53.6],[24.4,52],[23.2,50.4],[26.1,48],[26.4,42.8]],
[[22,54.8],[22.6,51.2],[25,46.8],[25,41.6]],
[[21.5,50.8],[23.8,46.8],[23.8,41.6]],
[[19.7,50.8],[22.6,46.4],[22.6,41.6]],
[[14.4,56.4],[17.4,53.2],[19.1,46.8],[21.5,41.6]],
[[13.3,58],[15.6,53.2],[17.4,46.8],[20.3,41.4]],
[[0,60.5],[1.6,59.3],[5,62.9]],
[[0,58.9],[1,56.4],[3.9,54.8]],
[[0,58],[1.6,54.8],[4.2,53.6]],
[[0,56.4],[2.2,52.8],[5.1,51.6]],
[[0,53.6],[2.7,51.6]],
[[0,52],[2.2,50.8],[4.5,51.2]],
[[0,50.8],[2.7,49.6]]
];
const labels84=[['1600',47.2,77,80],['1400',49.6,75.3,-20],['1200',50.8,73.5,-5],['1000',55.4,76.2,-50],['800',61.8,79.2,25],['600',64.2,77,-35],['400',65.9,75.5,-35],['200',70.6,76.3,-45],
['2000',32,74.1,30],['1800',36,74.5,-55],['1600',37.8,76.5,-50],
['600',2.5,65,-30],['800',5.5,64.5,-30],['2000',7,63.5,-30],['1800',2.5,63,-30],['1400',3,61,-30],
['2000',6.5,48,-45],['1800',4,47,-50],['1600',3,45,-55],['1400',3,43,-60],['400',5,40,-90],
['2400',4.5,23.2,80],['2200',3.3,9.4,-70],
['1800',14.6,23,90],['1600',15.6,23,90],['1400',16.6,23,90],['1200',17.6,23,90],['1000',16.2,21,0],['800',15.5,25,0],
['600',20.3,30.3,-90],['600',21,36.5,-90],['800',22,41,-90],['1200',21.5,38,-90],
['200',46.6,28.2,-60],['400',37.5,15.2,-80],
['800',76,37.8,-5],['600',75.9,35.3,-30],['400',76.1,33,-45],['200',76.1,30,-45]];

// ---- colour bar ----
const barLevels=[-9,-8.875,-8.75,-8.625,-8.5,-8.375,-8.25,-8.125,-8,-7.875,-7.75,-7.625,-7.5,-7.375,-7.25,-7.125,-7,-6.875,-6.75,-6.625,-6.5,-6.375,-6.25,-6.125,-6,-5.875,-5.75,-5.625,-5.5,-5.375,-5.25,-5.125,-5,-4.875,-4.75,-4.625,-4.5,-4.375,-4.25,-4.125,-4,-3.875,-3.75,-3.625,-3.5,-3.375,-3.25,-3.125,-3,-2.875,-2.75,-2.625,-2.5,-2.375,-2.25,-2.125,-2,-1.875,-1.75,-1.625,-1.5,-1.375,-1.25,-1.125,-1,-.875,-.75,-.625,-.5,-.375,-.25,-.125,0];
const barTicks=[-9,-7.5,-6,-4.5,-3,-1.5,0];
const barTickText=['−9','−7','−6','−4','−3','−1','0'];
const barMinor=[-8.25,-6.75,-5.25,-3.75,-2.25,-.75];

// ---- text ----
const panelTitles=[['AOT40  O3 at 17 LST(7 x 7)',279.5,20],['AOT40  O3 at 17 LST(35 x 35)',914,20],['AOT40  O3 at 17 LST(84 x 84)',279,814]];
const notes=[['40% VOC REDUC',748,1061],['DIFFERENCES FIELD',748,1108],['SPATIALLY NON−AVERAGED FIELD',748,1156],['Daily Average',748,1204]];
const stats=[['(7 x 7)',620,1268],['Min =−3.632',709,1268],['Max =0.0303',938,1268],['(35x35)',620,1347],['Min =−8.059',714,1347],['Max =0.0225',938,1347],['(84x84)',620,1427],['Min =−9.128',714,1427],['Max =0.0266',938,1427]];

// ---- helpers ----
const W=1173,H=1551,ZMIN=-9,ZMAX=.03;
const colorscale=colorStops.map(([v,c])=>[(v-ZMIN)/(ZMAX-ZMIN),c]);
function dense(n,fill){const z=[];for(let r=0;r<n;r++){z.push(new Array(n).fill(0));}fill(z);return z;}
const z35=dense(35,z=>heat35Rows.forEach((row,i)=>row.forEach((v,j)=>{z[heat35TopRow-i][heat35FirstCol+j]=v;})));
const z84=dense(84,z=>{heat84Rows.forEach((row,i)=>row.forEach((v,j)=>{z[heat84TopRow-i][heat84FirstCol+j]=v;}));
  heat84Cap.forEach(([r,c,vals])=>vals.forEach((v,j)=>{z[r][c+j]=v;}));});
function heat(z,ax,ay){return {type:'heatmap',z:z,xaxis:ax,yaxis:ay,colorscale:colorscale,zmin:ZMIN,zmax:ZMAX,showscale:false,hoverinfo:'skip',zsmooth:false};}
function lines(list,ax,ay,shape){const x=[],y=[];list.forEach(l=>{l.forEach(p=>{x.push(p[0]);y.push(p[1]);});x.push(null);y.push(null);});
  const line={color:'#000',width:1};if(shape){line.shape=shape;line.smoothing=.9;}
  return {type:'scatter',mode:'lines',x:x,y:y,xaxis:ax,yaxis:ay,line:line,hoverinfo:'skip',showlegend:false,connectgaps:false};}
const f=(size)=>({family:FONT,size:size,color:INK,weight:200});
function box(l,t,r,b){return {x:[l/W,r/W],y:[1-b/H,1-t/H]};}
function axisPair(b,rangeX,rangeY,tx,ty){
  return [{domain:b.x,range:rangeX,tickmode:'array',tickvals:tx,ticktext:tx.map(String),ticks:'',showgrid:false,zeroline:false,showline:true,mirror:true,linecolor:'#b0b0b0',linewidth:1,tickfont:f(19),ticklabelstandoff:3,fixedrange:true},
          {domain:b.y,range:rangeY,tickmode:'array',tickvals:ty,ticktext:ty.map(String),ticks:'',showgrid:false,zeroline:false,showline:true,mirror:true,linecolor:'#b0b0b0',linewidth:1,tickfont:f(19),ticklabelstandoff:2,fixedrange:true}];}
const [x1,y1]=axisPair(box(35,38,524,726),[0,6],[0,6],[0,1,2,3,4,5,6],[1,2,3,4,5]);
const [x2,y2]=axisPair(box(670,38,1160,726),[0,34],[0,34],[0,5,10,15,20,25,30],[5,10,15,20,25,30]);
const [x3,y3]=axisPair(box(35,832,524,1521),[0,83],[0,83],[0,20,40,60,80],[20,40,60,80]);
const barBox=box(621,829,1129,908);
const x4={domain:barBox.x,range:[-9,0],tickmode:'array',tickvals:barTicks,ticktext:barTickText,ticks:'',showline:true,mirror:true,linecolor:'#000',linewidth:1.5,showgrid:false,zeroline:false,tickfont:f(21),ticklabelstandoff:6,fixedrange:true};
const y4={domain:barBox.y,range:[0,1],showticklabels:false,ticks:'',showgrid:false,zeroline:false,showline:true,mirror:true,linecolor:'#000',linewidth:1.5,fixedrange:true};

const ann=[];
function contourLabels(list,ax,ay){list.forEach(([t,x,y,a])=>ann.push({text:t,x:x,y:y,xref:ax,yref:ay,showarrow:false,textangle:a,font:f(19),xanchor:'center',yanchor:'middle'}));}
contourLabels(labels7,'x','y');contourLabels(labels35,'x2','y2');contourLabels(labels84,'x3','y3');
function pageText(t,px,py,size,anchor){ann.push({text:t,x:px/W,y:1-py/H,xref:'paper',yref:'paper',showarrow:false,font:f(size),xanchor:anchor,yanchor:'middle',borderpad:0});}
panelTitles.forEach(([t,x,y])=>pageText(t,x,y,21.5,'center'));
notes.forEach(([t,x,y])=>pageText(t,x,y,20,'left'));
stats.forEach(([t,x,y])=>pageText(t,x,y,18,'left'));
pageText('PPB',875,806,29,'center');
[['0',719],['6',44],['0',719.5],['0',1514]].forEach(([t,py],i)=>pageText(t,i==2?664:28.5,py,19,'right'));

const barMarks=[];
barTicks.forEach(v=>{barMarks.push([[v,0],[v,.2]]);barMarks.push([[v,.8],[v,1]]);});
barMinor.forEach(v=>{barMarks.push([[v,0],[v,.1]]);barMarks.push([[v,.9],[v,1]]);});
const barTrace={type:'heatmap',z:[barLevels],x:barLevels,y:[.5],dy:1,xaxis:'x4',yaxis:'y4',colorscale:colorscale,zmin:ZMIN,zmax:ZMAX,showscale:false,hoverinfo:'skip',zsmooth:false};
const data=[heat(heat7,'x','y'),lines(contour7,'x','y'),heat(z35,'x2','y2'),lines(contour35,'x2','y2'),heat(z84,'x3','y3'),lines(contour84,'x3','y3','spline'),barTrace,lines(barMarks,'x4','y4')];
const layout={width:W,height:H,margin:{l:0,r:0,t:0,b:0},paper_bgcolor:'#fff',plot_bgcolor:'rgb(255,20,0)',showlegend:false,hovermode:false,
 xaxis:x1,yaxis:Object.assign(y1,{anchor:'x'}),xaxis2:Object.assign(x2,{anchor:'y2'}),yaxis2:Object.assign(y2,{anchor:'x2'}),xaxis3:Object.assign(x3,{anchor:'y3'}),yaxis3:Object.assign(y3,{anchor:'x3'}),xaxis4:Object.assign(x4,{anchor:'y4'}),yaxis4:Object.assign(y4,{anchor:'x4'}),annotations:ann};
const spacing={21.5:1.9,20:.15,18:.45,29:1.5,19:.2};
Plotly.newPlot('g',data,layout,{displayModeBar:false,staticPlot:true}).then(()=>{
  document.querySelectorAll('.annotation-text').forEach(t=>{const s=parseFloat(t.style.fontSize);if(spacing[s]!==undefined)t.style.letterSpacing=spacing[s]+'px';});
});
</script></body></html>
